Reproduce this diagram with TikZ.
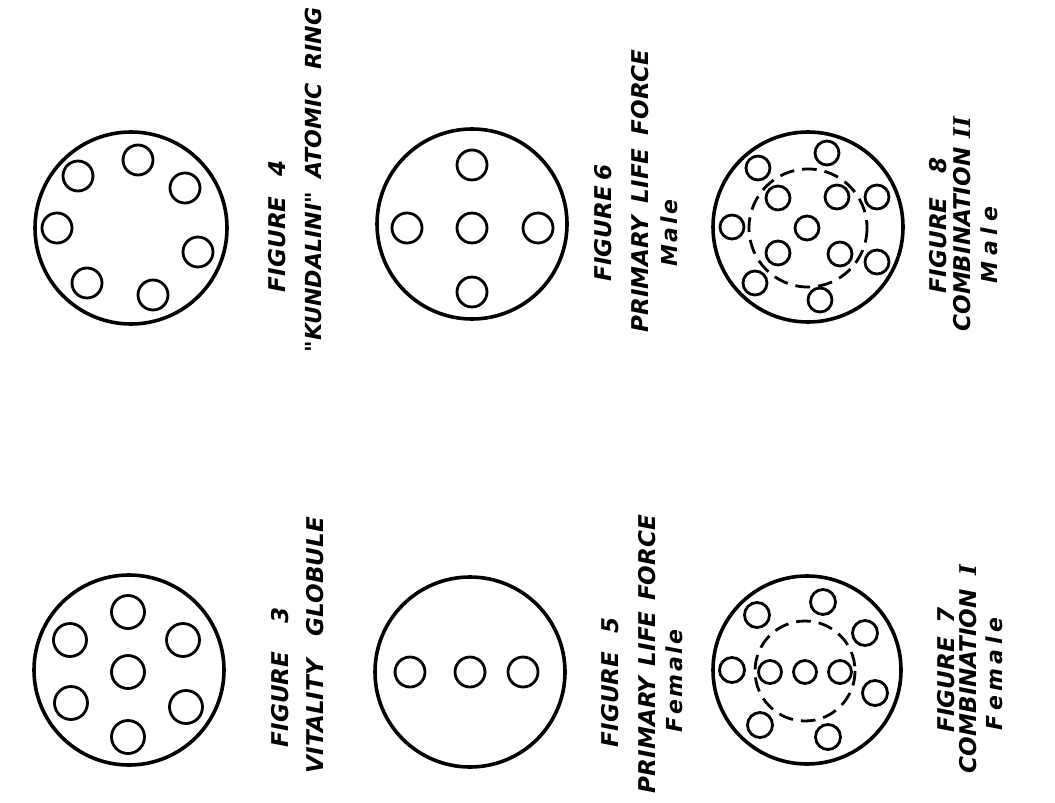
\documentclass[tikz,border=0pt]{standalone}
\usepackage{fontspec}
\setmainfont{DejaVu Sans}
\newfontfamily\lab{DejaVu Sans}
\newfontfamily\romnum{DejaVu Serif}
\newdimen\px \px=0.75pt
\newcommand{\spreadtxt}[2]{\makebox[#1\px][s]{#2}}
\begin{document}
\begin{tikzpicture}[x=0.75pt,y=-0.75pt,
  big/.style={line width=2.7pt},
  small/.style={line width=2.1pt},
  dashring/.style={line width=2.1pt, dash pattern=on 11pt off 6pt},
  lbl/.style={rotate=90, inner sep=0pt, font=\lab\bfseries\itshape\fontsize{17.3}{20}\selectfont},
  lblsmall/.style={rotate=90, inner sep=0pt, font=\lab\bfseries\itshape\fontsize{16.6}{20}\selectfont},
  sub/.style={rotate=90, inner sep=0pt, font=\lab\bfseries\itshape\fontsize{16.5}{18}\selectfont}]
\useasboundingbox (0,0) rectangle (1055,802);

% ---------- Figure 3 ----------
\draw[big] (129,670) circle (95);
\foreach \p in {(128,612),(70,640),(183,640),(128,672),(71,703),(186,707),(128,737)}
  \draw[small] \p circle (16.5);
\node[lbl] (t3a) at (280,677) {\spreadtxt{140}{FIGURE 3}};
\node[lbl] (t3b) at (315,645) {\spreadtxt{256}{VITALITY GLOBULE}};

% ---------- Figure 4 ----------
\draw[big] (131,228) circle (96);
\foreach \p in {(138,160),(185,188),(198,252),(153,295),(87,283),(57,228),(78,176)}
  \draw[small] \p circle (15);
\node[lbl] (t4a) at (277,226) {\spreadtxt{132}{FIGURE 4}};
\node[lblsmall] (t4b) at (313,180) {\spreadtxt{345}{"KUNDALINI" ATOMIC RING}};

% ---------- Figure 5 ----------
\draw[big] (470,672) circle (95);
\foreach \p in {(410,672),(470,672),(523,672)}
  \draw[small] \p circle (15);
\node[lbl] (t5a) at (610,682) {\spreadtxt{130}{FIGURE 5}};
\node[lbl] (t5b) at (647,654) {\spreadtxt{278}{PRIMARY LIFE FORCE}};
\node[sub] (t5c) at (674,681) {\spreadtxt{103}{F\hfill e\hfill m\hfill a\hfill l\hfill e}};

% ---------- Figure 6 ----------
\draw[big] (472,224) circle (95);
\foreach \p in {(407,228),(472,165),(472,228),(472,292),(538,228)}
  \draw[small] \p circle (15);
\node[lbl] (t6a) at (603,223) {\spreadtxt{117}{FIGURE 6}};
\node[lbl] (t6b) at (640,191) {\spreadtxt{283}{PRIMARY LIFE FORCE}};
\node[sub] (t6c) at (669,233) {\spreadtxt{67}{M\hfill a\hfill l\hfill e}};

% ---------- Figure 7 ----------
\draw[big] (807,670) circle (94);
\draw[dashring] (805,671) circle (50);
\foreach \p in {(770,672),(805,672),(840,672)}
  \draw[small] \p circle (11.5);
\foreach \p in {(732,670),(757,615),(823,602),(865,633),(875,693),(828,737),(760,725)}
  \draw[small] \p circle (12.5);
\node[lbl] (t7a) at (946,670) {\spreadtxt{125}{FIGURE 7}};
\node[lbl] (t7b) at (968,669) {\spreadtxt{208}{COMBINATION {\romnum\bfseries\itshape I}}};
\node[sub] (t7c) at (994,674) {\spreadtxt{112}{F\hfill e\hfill m\hfill a\hfill l\hfill e}};

% ---------- Figure 8 ----------
\draw[big] (808,227) circle (95);
\draw[dashring] (808,228) circle (59);
\foreach \p in {(807,228),(778,198),(837,197),(778,253),(840,254)}
  \draw[small] \p circle (12);
\foreach \p in {(732,227),(758,168),(827,153),(877,197),(877,262),(820,300),(755,283)}
  \draw[small] \p circle (12);
\node[lbl] (t8a) at (938,225) {\spreadtxt{136}{FIGURE 8}};
\node[lbl] (t8b) at (962,224) {\spreadtxt{215}{COMBINATION {\romnum\bfseries\itshape II}}};
\node[sub] (t8c) at (989,245) {\spreadtxt{76}{M\hfill a\hfill l\hfill e}};
\end{tikzpicture}
\end{document}
